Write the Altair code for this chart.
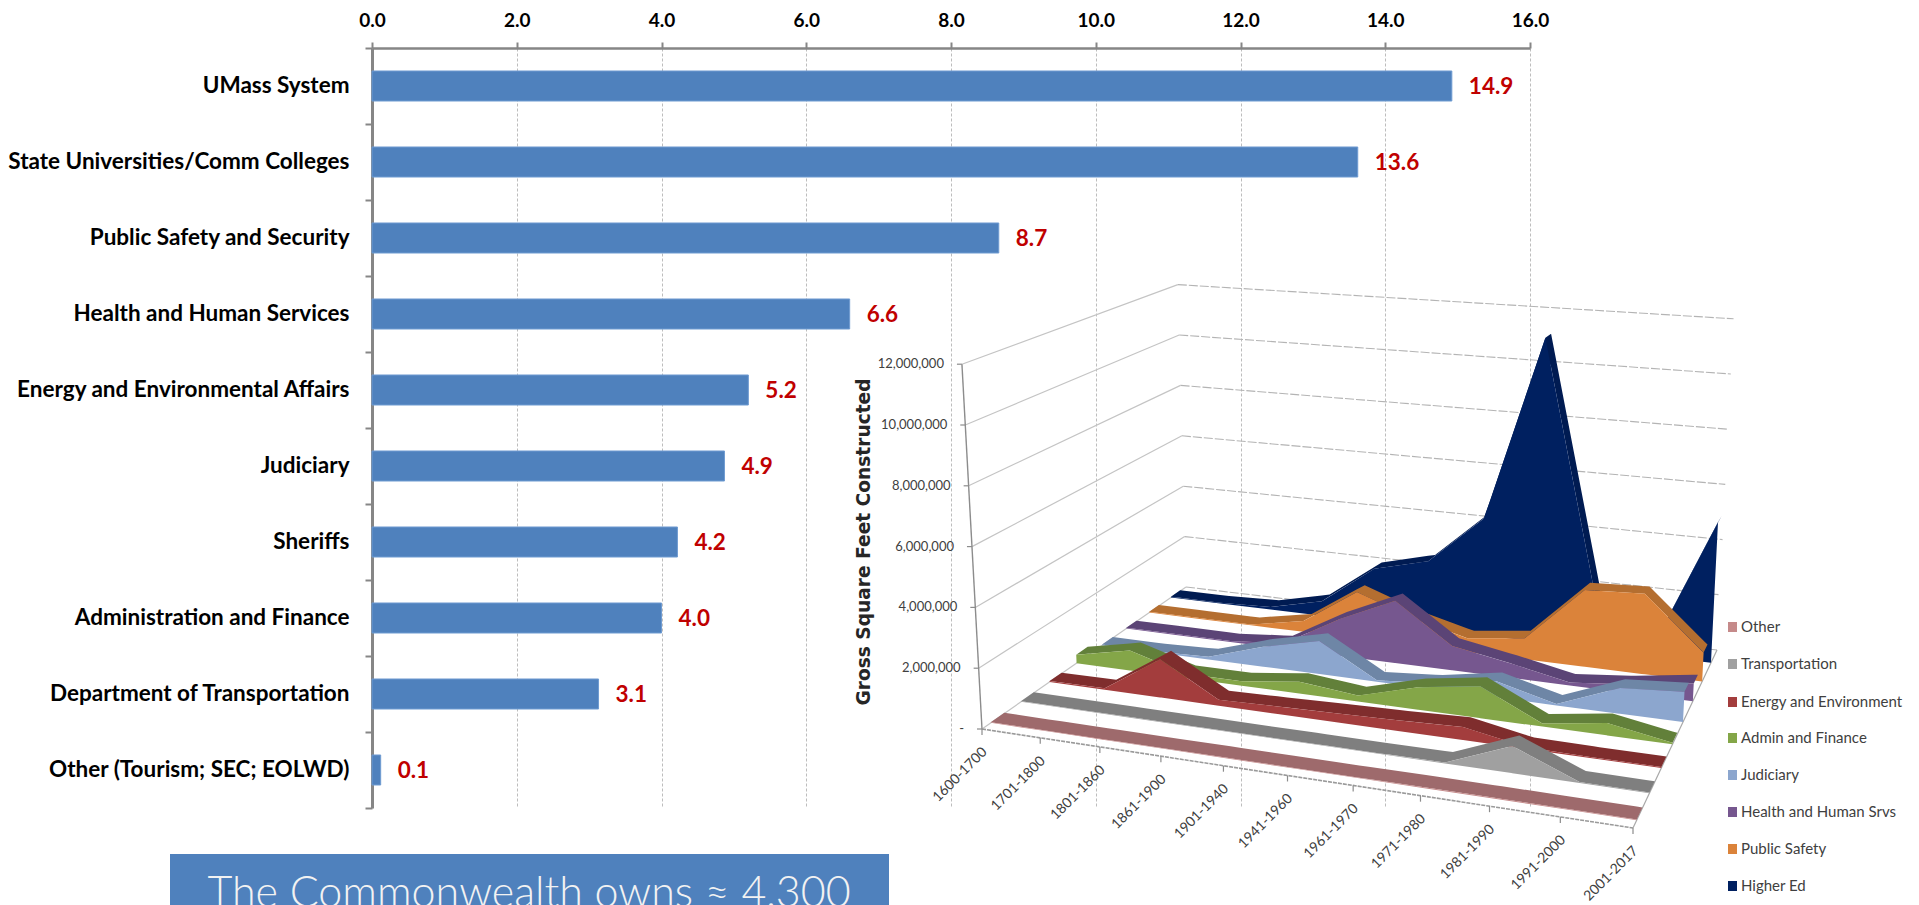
import altair as alt
import numpy as np
import pandas as pd

# ---- bar chart data ----
AGENCIES = ["UMass System", "State Universities/Comm Colleges", "Public Safety and Security",
            "Health and Human Services", "Energy and Environmental Affairs", "Judiciary", "Sheriffs",
            "Administration and Finance", "Department of Transportation", "Other (Tourism; SEC; EOLWD)"]
GSF = [14.92, 13.62, 8.66, 6.6, 5.2, 4.87, 4.22, 4.0, 3.13, 0.12]
X_TICKS = [0, 2, 4, 6, 8, 10, 12, 14, 16]

# ---- 3D area data (millions of square feet) ----
PERIODS = ["1600-1700", "1701-1800", "1801-1860", "1861-1900", "1901-1940", "1941-1960",
           "1961-1970", "1971-1980", "1981-1990", "1991-2000", "2001-2017"]
OTHER = [0.02, 0.02, 0.02, 0.02, 0.02, 0.02, 0.02, 0.03, 0.03, 0.02, 0.02]
TRANSPORT = [0.02, 0.02, 0.02, 0.02, 0.02, 0.02, 0.02, 0.03, 0.85, 0.03, 0.02]
ENERGY = [0.03, 0.05, 1.3, 0.2, 0.25, 0.3, 0.35, 0.42, 0.05, 0.03, 0.03]
ADMIN = [0.3, 0.7, 0.15, 0.15, 0.4, 0.2, 0.75, 1.05, 0.1, 0.4, 0.05]
JUDICIARY = [0.03, 0.03, 0.1, 0.7, 1.15, 0.05, 0.2, 0.55, 0.05, 0.85, 1.0]
HEALTH = [0.03, 0.03, 0.03, 0.2, 1.3, 2.2, 0.85, 0.5, 0.1, 0.3, 0.6]
PUBLIC = [0.03, 0.03, 0.03, 0.4, 1.7, 1.0, 0.5, 0.75, 2.7, 2.8, 1.0]
HIGHER = [0.03, 0.03, 0.1, 0.55, 2.0, 2.5, 4.3, 11.1, 1.8, 0.3, 5.0]
SERIES = ["Other", "Transportation", "Energy and Environment", "Admin and Finance", "Judiciary",
          "Health and Human Srvs", "Public Safety", "Higher Ed"]
FRONT_COLORS = ["#C58A8A", "#A0A0A0", "#A33D3D", "#84A648", "#8CA6CE", "#76578F", "#DB833A", "#002060"]
TOP_COLORS = ["#9E6A6C", "#7F7F7F", "#7F2D2D", "#62803A", "#6E86A6", "#5B4476", "#B46E30", "#001B52"]
Y_TICKS = [0, 2, 4, 6, 8, 10, 12]
Y_LABELS = ["-", "2,000,000", "4,000,000", "6,000,000", "8,000,000", "10,000,000", "12,000,000"]

W, H = 1903, 897
PX = alt.Scale(domain=[8, 8 + W], range=[0, W])
PY = alt.Scale(domain=[8, 8 + H], range=[0, H])

# floor corners of the inset: front-left, front-right, back-right, back-left
FL, FR, BR, BL = (982, 729), (1633, 828), (1717, 650), (1186, 587)
src = [(0, 0), (1, 0), (1, 1), (0, 1)]
dst = [FL, FR, BR, BL]
A, b = [], []
for (u, v), (x, y) in zip(src, dst):
    A.append([u, v, 1, 0, 0, 0, -u * x, -v * x]); b.append(x)
    A.append([0, 0, 0, u, v, 1, -u * y, -v * y]); b.append(y)
hm = np.linalg.solve(np.array(A, float), np.array(b, float))


def floor(u, v):
    d = hm[6] * u + hm[7] * v + 1
    return (hm[0] * u + hm[1] * v + hm[2]) / d, (hm[3] * u + hm[4] * v + hm[5]) / d


def blend(u, v, fl, fr, bl, br):
    return (fl * (1 - u) + fr * u) * (1 - v) + (bl * (1 - u) + br * u) * v


def project(u, v, h):
    x, y = floor(u, v)
    px = h * blend(u, v, 30.4, 33.5, 25.2, 27.6)
    tilt = blend(u, v, -0.055, 0.05, -0.027, 0.05)
    return x + px * tilt, y - px


def spans(poly):
    """vertical extent of a polygon at each of its vertices, for an area mark"""
    pts = np.array(poly)
    xs = np.unique(np.round(pts[:, 0], 3))
    rows = []
    n = len(pts)
    for x in xs:
        ys = []
        for i in range(n):
            (x0, y0), (x1, y1) = pts[i], pts[(i + 1) % n]
            lo, hi = min(x0, x1), max(x0, x1)
            if lo - 0.002 <= x <= hi + 0.002:
                if abs(x1 - x0) < 1e-6:
                    ys += [y0, y1]
                else:
                    t = min(1, max(0, (x - x0) / (x1 - x0)))
                    ys.append(y0 + t * (y1 - y0))
        rows.append({"x": float(x), "y": float(min(ys)), "y2": float(max(ys))})
    return pd.DataFrame(rows)


def poly_layer(poly, color, opacity=1):
    return alt.Chart(spans(poly)).mark_area(color=color, opacity=opacity, interpolate="linear").encode(
        x=alt.X("x:Q", scale=PX, axis=None), y=alt.Y("y:Q", scale=PY, axis=None), y2="y2:Q")


def line_layer(points, color, width=1, dash=None):
    df = pd.DataFrame({"x": [p[0] for p in points], "y": [p[1] for p in points], "o": range(len(points))})
    kw = {"strokeDash": dash} if dash else {}
    return alt.Chart(df).mark_line(color=color, strokeWidth=width, **kw).encode(
        x=alt.X("x:Q", scale=PX, axis=None), y=alt.Y("y:Q", scale=PY, axis=None), order="o:Q")


def text_layer(df, **kw):
    return alt.Chart(df).mark_text(**kw).encode(
        x=alt.X("x:Q", scale=PX, axis=None), y=alt.Y("y:Q", scale=PY, axis=None), text="t:N")


layers = []

# ---- bars ----
BX = alt.Scale(domain=[0, 16], range=[364, 1522])
BY = alt.Scale(domain=AGENCIES, range=[40, 800], paddingInner=0.605, paddingOuter=0.3025)
bars_df = pd.DataFrame({"agency": AGENCIES, "gsf": GSF})
bars = alt.Chart(bars_df).mark_bar(color="#4F81BD", stroke="#6F9BD1", strokeWidth=1).encode(
    x=alt.X("gsf:Q", scale=BX, title=None,
            axis=alt.Axis(orient="top", offset=-40, values=X_TICKS, format=".1f", grid=True, labelFlush=False,
                          gridColor="#BDBDBD", gridDash=[3, 2], gridWidth=1, domainColor="#868686", domainWidth=2.5,
                          tickColor="#868686", tickSize=6, tickWidth=2, labelFont="Lato", labelFontWeight="bold",
                          labelFontSize=19, labelColor="#000000", labelPadding=12)),
    y=alt.Y("agency:N", scale=BY, sort=AGENCIES, title=None,
            axis=alt.Axis(orient="left", offset=-364, ticks=False, domainColor="#868686", domainWidth=3,
                          labelFont="Lato", labelFontWeight="bold", labelFontSize=22.5, labelColor="#000000",
                          labelPadding=23, labelLimit=500, grid=False)))
layers.append(bars)
# ticks between the bands, through an axis of their own
BAND_EDGES = list(range(len(AGENCIES) + 1))
layers.append(alt.Chart(pd.DataFrame({"e": BAND_EDGES})).mark_point(opacity=0).encode(
    y=alt.Y("e:Q", scale=alt.Scale(domain=[0, len(AGENCIES)], range=[40, 800]), title=None,
            axis=alt.Axis(orient="left", offset=-364, values=BAND_EDGES, labels=False, domain=False, grid=False,
                          tickColor="#868686", tickSize=7, tickWidth=2)),
    x=alt.value(364)))
layers.append(alt.Chart(bars_df).mark_text(align="left", baseline="middle", dx=17, dy=1, font="Lato", fontWeight="bold",
                                           fontSize=22.5, color="#C00000").encode(
    x=alt.X("gsf:Q", scale=BX, axis=None), y=alt.Y("agency:N", scale=BY, sort=AGENCIES, axis=None),
    text=alt.Text("gsf:Q", format=".1f")))

# ---- inset walls ----
for m in Y_TICKS[1:]:
    layers.append(line_layer([project(0, 0, m), project(0, 1, m)], "#C4C4C4", 1.2))
    layers.append(line_layer([project(0, 1, m), project(1, 1, m)], "#B4B4B4", 1.1, [9, 2]))
layers.append(line_layer([project(0, 0, 0), project(0, 1, 0)], "#C4C4C4", 1.2))
layers.append(line_layer([project(0, 1, 0), project(1, 1, 0)], "#B4B4B4", 1.1, [9, 2]))
layers.append(line_layer([project(1, 0, 0), project(1, 1, 0)], "#A8A8A8", 1.2))
layers.append(line_layer([project(0, 0, 0), project(0, 0, 12)], "#8C8C8C", 1.4))
layers.append(line_layer([project(0, 0, 0), project(1, 0, 0)], "#9A9A9A", 1.6, [4, 1]))
for m in Y_TICKS:
    x, y = project(0, 0, m)
    layers.append(line_layer([(x - 5, y), (x, y)], "#8C8C8C", 1.2))
for i in range(len(PERIODS)):
    x, y = floor(i / 10, 0)
    layers.append(line_layer([(x, y), (x, y + 6)], "#8C8C8C", 1.2))

# ---- inset series, back to front ----
ALL = [OTHER, TRANSPORT, ENERGY, ADMIN, JUDICIARY, HEALTH, PUBLIC, HIGHER]
for k in range(7, -1, -1):
    vf, vb = (k + 0.28) / 8, (k + 0.72) / 8
    us = [i / 10 for i in range(len(PERIODS))]
    front = [project(u, vf, h) for u, h in zip(us, ALL[k])]
    back = [project(u, vb, h) for u, h in zip(us, ALL[k])]
    base = [project(u, vf, 0) for u in us]
    layers.append(poly_layer(front + back[::-1], TOP_COLORS[k]))
    layers.append(poly_layer(front + base[::-1], FRONT_COLORS[k]))

# ---- inset texts ----
ytl = []
for m, lab in zip(Y_TICKS, Y_LABELS):
    x, y = project(0, 0, m)
    ytl.append({"x": x - 18, "y": y, "t": lab})
layers.append(text_layer(pd.DataFrame(ytl), align="right", baseline="middle", font="Lato", fontSize=13, color="#404040"))
layers.append(text_layer(pd.DataFrame([{"x": 864, "y": 542, "t": "Gross Square Feet Constructed"}]), angle=270,
                         align="center", baseline="middle", font="DejaVu Sans", fontWeight="bold", fontSize=18.6,
                         color="#262626"))
xtl = []
for i, lab in enumerate(PERIODS):
    x, y = floor(i / 10, 0)
    xtl.append({"x": x + 3, "y": y + 21, "t": lab})
layers.append(text_layer(pd.DataFrame(xtl), angle=315, align="right", baseline="middle", font="Lato", fontSize=14,
                         color="#404040"))

# ---- inset legend ----
LEG_Y = [627, 664, 702, 738, 775, 812, 849, 886]
leg = pd.DataFrame({"x": 1728, "x2": 1737, "y": [v - 5 for v in LEG_Y], "y2": [v + 5 for v in LEG_Y], "c": SERIES})
layers.append(alt.Chart(leg).mark_rect().encode(
    x=alt.X("x:Q", scale=PX, axis=None), x2="x2:Q", y=alt.Y("y:Q", scale=PY, axis=None), y2="y2:Q",
    color=alt.Color("c:N", scale=alt.Scale(domain=SERIES, range=FRONT_COLORS), legend=None)))
layers.append(text_layer(pd.DataFrame({"x": 1741, "y": LEG_Y, "t": SERIES}), align="left", baseline="middle",
                         font="Lato", fontSize=15, color="#404040"))

# ---- call-out box ----
box = pd.DataFrame({"x": [170], "x2": [889], "y": [854], "y2": [905]})
layers.append(alt.Chart(box).mark_rect(color="#4F81BD").encode(
    x=alt.X("x:Q", scale=PX, axis=None), x2="x2:Q", y=alt.Y("y:Q", scale=PY, axis=None), y2="y2:Q"))
layers.append(text_layer(pd.DataFrame([{"x": 529, "y": 907, "t": "The Commonwealth owns ≈ 4,300"}]), align="center",
                         baseline="alphabetic", font="Lato", fontWeight=300, fontSize=43, color="#F2F2F2"))

chart = alt.layer(*layers).resolve_scale(x="independent", y="independent", color="independent").properties(
    width=W, height=H, padding=0, autosize=alt.AutoSizeParams(type="none")).configure_view(stroke=None)

chart.save("out.html", embed_options={"renderer": "svg", "actions": False})
